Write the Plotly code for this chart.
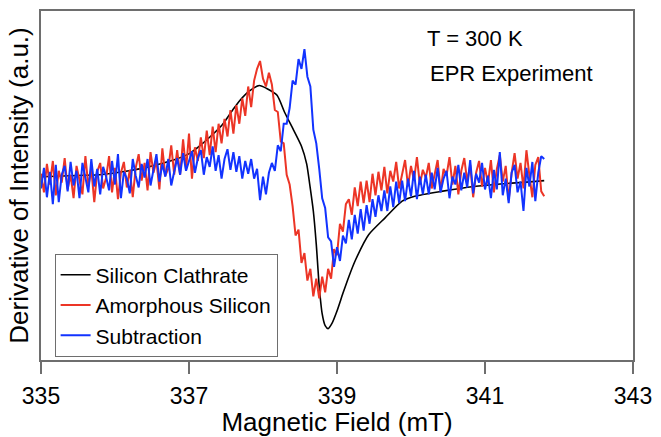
import numpy as np
import plotly.graph_objects as go

# Magnetic field sweep for the noisy spectra (mT), uniform instrument sampling
field_start = 335.0
field_step = 0.04
n_points = 171
field = np.round(field_start + field_step * np.arange(n_points), 3)

# Silicon clathrate (smooth derivative line)
clathrate_field = [335.00, 335.39, 335.79, 336.19, 336.45, 336.79, 336.99, 337.12, 337.29, 337.45,
                   337.59, 337.69, 337.81, 337.95, 338.05, 338.19, 338.29, 338.41, 338.52, 338.59,
                   338.63, 338.68, 338.72, 338.76, 338.80, 338.84, 338.88, 338.93, 339.00, 339.08,
                   339.16, 339.25, 339.43, 339.65, 339.88, 340.05, 340.41, 340.85, 341.29, 341.65, 341.80]
clathrate = [2, 3, 4, 8, 12, 19, 25, 32, 43, 55,
             70, 80, 89, 95, 92, 85, 68, 50, 33, 15,
             -5, -33, -67, -110, -138, -150, -153, -148, -135, -117,
             -100, -83, -57, -40, -23, -18, -13, -8, -5, -3, -2]

# Amorphous silicon (noisy)
amorphous = [
    5, -14, 15, -6, 18, -17, 8, -4, 21, -11, 4, -20, 13, -1, -16, 23, -8, 10, -24, 7,
    16, -10, 1, 23, -14, 11, -21, 6, 17, -9, 9, -19, 11,
    25, -2, 16, -12, 27, 6, 18, -11, 31, 3, 10, 34, 4,
    29, 4, 40, 9, 46, 0, 32, 18,
    42, 21, 49, 24, 53, 27, 56, 36, 61, 43,
    70, 46, 75, 56, 82, 64, 94, 73,
    100, 112, 120, 102, 94, 108,
    96, 70, 68, 38, 36, 4,
    -6, -28, -58, -52, -86, -76, -104, -92, -120, -102,
    -122, -100, -116, -92, -102, -72, -78, -46, -54, -26,
    -21, -37, -9, -28, -3, -25, -2, -24, 5, -17, 7, -12,
    12, -15, 8, -3, 17, -10, 5, 19, -8, 13, -2, 22, -6, 9, 1,
    16, -10, 6, 19, -13, 10, 3, 22, -6, 13, -16, 8, 21, -3, 14, -19, 6, 18, -8, 11,
    -5, 19, -14, 10, 24, -3, 13, -22, 6, 26, 0, 16, -10, 29, 3, -19, 14, 22, -13, -18,
]

# Subtraction (noisy)
subtraction = [
    -10, 11, -19, 7, -26, 14, -24, 4, 13, -13, 17, -7, 8, -20, 16, -1, -14, 20, -8, 10,
    -16, 12, 2, -12, 18, -6, 25, -20, 7, 0, -15, 20, 3,
    -9, 15, 1, 20, -7, 10, 25, -3, 15, 2, 20, -7, 9,
    21, 4, 26, 8, 17, 28, 6, 21,
    29, 4, 22, 12, 33, 8, 24, 0, 20, 30,
    9, 27, 7, 23, 0, 18, 5, 20,
    0, 10, -22, 2, -16, 6,
    16, 8, 34, 28, 56, 56,
    72, 100, 96, 122, 112, 132, 104, 94, 50, 36,
    10, -20, -30, -60, -64, -90, -70, -84, -58, -66,
    -42, -62, -37, -56, -31, -53, -27, -46, -21, -39, -17, -33,
    -12, -33, -8, -29, -3, -25, -2, -23, 0, -18, 8, -21, 2, -16, 4,
    -16, 6, -11, 11, -14, 0, 8, -20, 2, -6, 14, -12, 6, -9, 19, -15, 5, -4, 16, -11,
    3, -20, 9, -11, 27, -17, 0, -25, 6, 14, -14, -3, -33, 11, -8, 17, -23, 6, 23, 20,
]

x_ticks = [335, 337, 339, 341, 343]

FONT = "Liberation Sans, Arial, Helvetica, sans-serif"
AXIS_COLOR = "#6e6e6e"

fig = go.Figure()
fig.add_trace(go.Scatter(x=clathrate_field, y=clathrate, mode="lines", name="Silicon Clathrate",
                         line=dict(color="#000000", width=1.6, shape="spline", smoothing=0.6)))
fig.add_trace(go.Scatter(x=field, y=amorphous, mode="lines", name="Amorphous Silicon",
                         line=dict(color="#ec3526", width=2)))
fig.add_trace(go.Scatter(x=field, y=subtraction, mode="lines", name="Subtraction",
                         line=dict(color="#1233ff", width=2)))

fig.update_layout(
    width=661, height=437,
    margin=dict(l=41, r=21, t=9, b=72),
    paper_bgcolor="white", plot_bgcolor="white",
    font=dict(family=FONT, color="#000000"),
    showlegend=True,
    legend=dict(x=0.023, y=0.305, xanchor="left", yanchor="top",
                bordercolor=AXIS_COLOR, borderwidth=1, bgcolor="white",
                font=dict(size=21, family=FONT), tracegroupgap=0,
                itemwidth=30),
    annotations=[
        dict(text="T = 300 K", x=0.648, y=0.921, xref="paper", yref="paper",
             xanchor="left", yanchor="middle", showarrow=False, font=dict(size=22, family=FONT)),
        dict(text="EPR Experiment", x=0.653, y=0.820, xref="paper", yref="paper",
             xanchor="left", yanchor="middle", showarrow=False, font=dict(size=22, family=FONT)),
    ],
)
fig.update_xaxes(range=[335, 343], tickvals=x_ticks, ticktext=[str(t) for t in x_ticks],
                 showgrid=False, zeroline=False, showline=True, linecolor=AXIS_COLOR, linewidth=1.5,
                 mirror=True, ticks="outside", ticklen=12, tickwidth=1.5, tickcolor=AXIS_COLOR,
                 ticklabelstandoff=3,
                 tickfont=dict(size=23, family=FONT),
                 title=dict(text="Magnetic Field (mT)", font=dict(size=26, family=FONT), standoff=0))
fig.update_yaxes(range=[-185, 171], showticklabels=False, ticks="",
                 showgrid=False, zeroline=False, showline=True, linecolor=AXIS_COLOR, linewidth=1.5,
                 mirror=True,
                 title=dict(text="Derivative of Intensity (a.u.)", font=dict(size=26, family=FONT), standoff=3))

fig.write_html("out.html")
